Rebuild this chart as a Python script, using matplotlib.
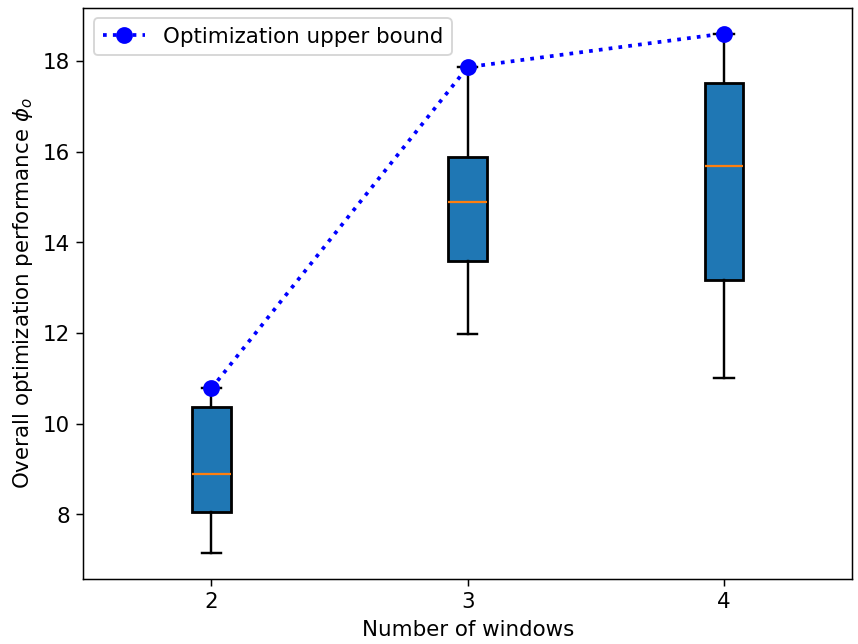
import numpy as np
import matplotlib.pyplot as plt

# number of windows
windows = [2, 3, 4]

# box statistics
medians = [8.90, 14.90, 15.69]
q1s = [8.06, 13.59, 13.17]
q3s = [10.36, 15.89, 17.52]
whis_lo = [7.15, 11.98, 11.02]
whis_hi = [10.78, 17.87, 18.61]

# optimization upper bound
upper = [10.78, 17.87, 18.61]

plt.rcParams['font.size'] = 11.5

fig, ax = plt.subplots(figsize=(6.4, 4.8), dpi=134.2)

stats = []
for i in range(len(windows)):
    stats.append({'med': medians[i], 'q1': q1s[i], 'q3': q3s[i],
                  'whislo': whis_lo[i], 'whishi': whis_hi[i], 'fliers': []})

ax.bxp(stats, positions=windows, widths=0.15, patch_artist=True,
       boxprops=dict(facecolor='C0', edgecolor='black', linewidth=1.5),
       whiskerprops=dict(linewidth=1.3),
       capprops=dict(linewidth=1.3),
       medianprops=dict(color='C1', linewidth=1.2))

ax.plot(windows, upper, 'b:', marker='o', markersize=8, linewidth=2,
        label='Optimization upper bound')

ax.set_xlim(1.5, 4.5)
ax.set_xticks(windows)
ax.set_xticklabels([str(w) for w in windows])
ax.set_xlabel('Number of windows')
ax.set_ylabel(r'Overall optimization performance $\phi_o$')
ax.legend(loc='upper left')

plt.subplots_adjust(left=0.097, right=0.992, top=0.988, bottom=0.101)
plt.savefig('out.png')
